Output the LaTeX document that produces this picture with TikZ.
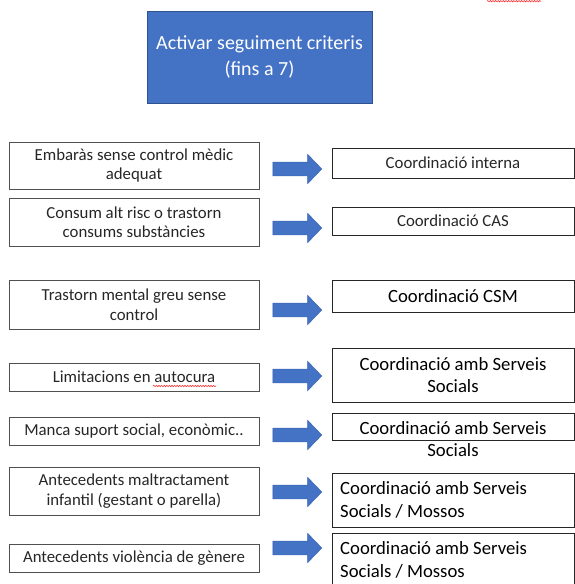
\documentclass[tikz,border=0pt]{standalone}
\usepackage{fontspec}
\setmainfont{Carlito}
\usetikzlibrary{shapes.arrows,decorations.pathmorphing}
\definecolor{boxblue}{HTML}{4472C4}
\definecolor{boxblueedge}{HTML}{2F528F}
\definecolor{arrowblue}{HTML}{4472C4}
\definecolor{arrowedge}{HTML}{3A64AE}
\definecolor{lgray}{HTML}{505050}
\definecolor{ltext}{HTML}{262626}
\tikzset{
  topbox/.style={draw=boxblueedge, fill=boxblue, line width=1pt, text=white,
    minimum width=225pt, minimum height=92pt, inner sep=0pt, align=center,
    font=\fontsize{20}{26}\selectfont},
  lbox/.style={draw=lgray, line width=0.9pt, minimum width=250pt, inner sep=0pt,
    align=center, text=ltext, font=\fontsize{16.8}{19.5}\selectfont},
  rbox/.style={draw=black!85, line width=0.9pt, minimum width=242pt, inner sep=0pt,
    align=center, text=ltext, font=\fontsize{16.8}{19.5}\selectfont},
  rboxb/.style={rbox, text=black, font=\fontsize{18.7}{22.5}\selectfont},
  rtxt/.style={inner sep=0pt, text=black, font=\fontsize{18.7}{22.5}\selectfont},
  bluearrow/.style={single arrow, fill=arrowblue, draw=arrowedge, line width=0.4pt,
    minimum height=49pt, inner xsep=0pt, inner ysep=6.75pt,
    single arrow head extend=7.75pt, single arrow tip angle=92,
    shape border rotate=0},
  spell/.style={draw=red!80, line width=0.6pt, decorate,
    decoration={snake, amplitude=0.7pt, segment length=2.6pt}}
}
\begin{document}
\begin{tikzpicture}[x=1pt, y=-1pt]
\useasboundingbox (0,0) rectangle (575,584);
\clip (0,0) rectangle (575,584);
% top box
\node[topbox] (top) at (259.5,57) {Activar seguiment criteris\\(fins a 7)};
% left boxes
\node[lbox, minimum height=47pt] (l1) at (134,165.5) {Embaràs sense control mèdic\\adequat};
\node[lbox, minimum height=48pt] (l2) at (134,222) {Consum alt risc o trastorn\\consums substàncies};
\node[lbox, minimum height=49pt] (l3) at (134,304.5) {Trastorn mental greu sense\\control};
\node[lbox, minimum height=28pt] (l4) at (134,377) {Limitacions en autocura};
\node[lbox, minimum height=28pt] (l5) at (134,431) {Manca suport social, econòmic..};
\node[lbox, minimum height=48pt] (l6) at (134,491) {Antecedents maltractament\\infantil (gestant o parella)};
\node[lbox, minimum height=28pt] (l7) at (134,558) {Antecedents violència de gènere};
% right boxes
\node[rbox, minimum height=30pt] (r1) at (453,163) {Coordinació interna};
\node[rbox, minimum height=28pt] (r2) at (453,221) {Coordinació CAS};
\node[rboxb, minimum height=32pt] (r3) at (453,296) {Coordinació CSM};
\node[rboxb, minimum height=54pt] (r4) at (453,375) {Coordinació amb Serveis\\Socials};
\node[rbox, minimum height=27pt] (r5) at (453,426.5) {};
\node[rtxt, align=center] (r5t) at (453,439) {Coordinació amb Serveis\\Socials};
\node[rbox, minimum height=54pt] (r6) at (453,500) {};
\node[rtxt, align=left, anchor=west] (r6t) at (340,500) {Coordinació amb Serveis\\Socials / Mossos};
\node[rbox, minimum height=54pt] (r7) at (453,560) {};
\node[rtxt, align=left, anchor=west] (r7t) at (340,560) {Coordinació amb Serveis\\Socials / Mossos};
% block arrows
\node[bluearrow] (a1) at (294,169) {};
\node[bluearrow] (a2) at (294,228) {};
\node[bluearrow] (a3) at (294,310) {};
\node[bluearrow] (a4) at (294,376) {};
\node[bluearrow] (a5) at (294,435) {};
\node[bluearrow] (a6) at (294,492) {};
\node[bluearrow] (a7) at (294,548) {};
% spell-check marks
\draw[spell] (153,386) -- (216,386);
\draw[spell] (487,1.2) -- (541,1.2);
\end{tikzpicture}
\end{document}
